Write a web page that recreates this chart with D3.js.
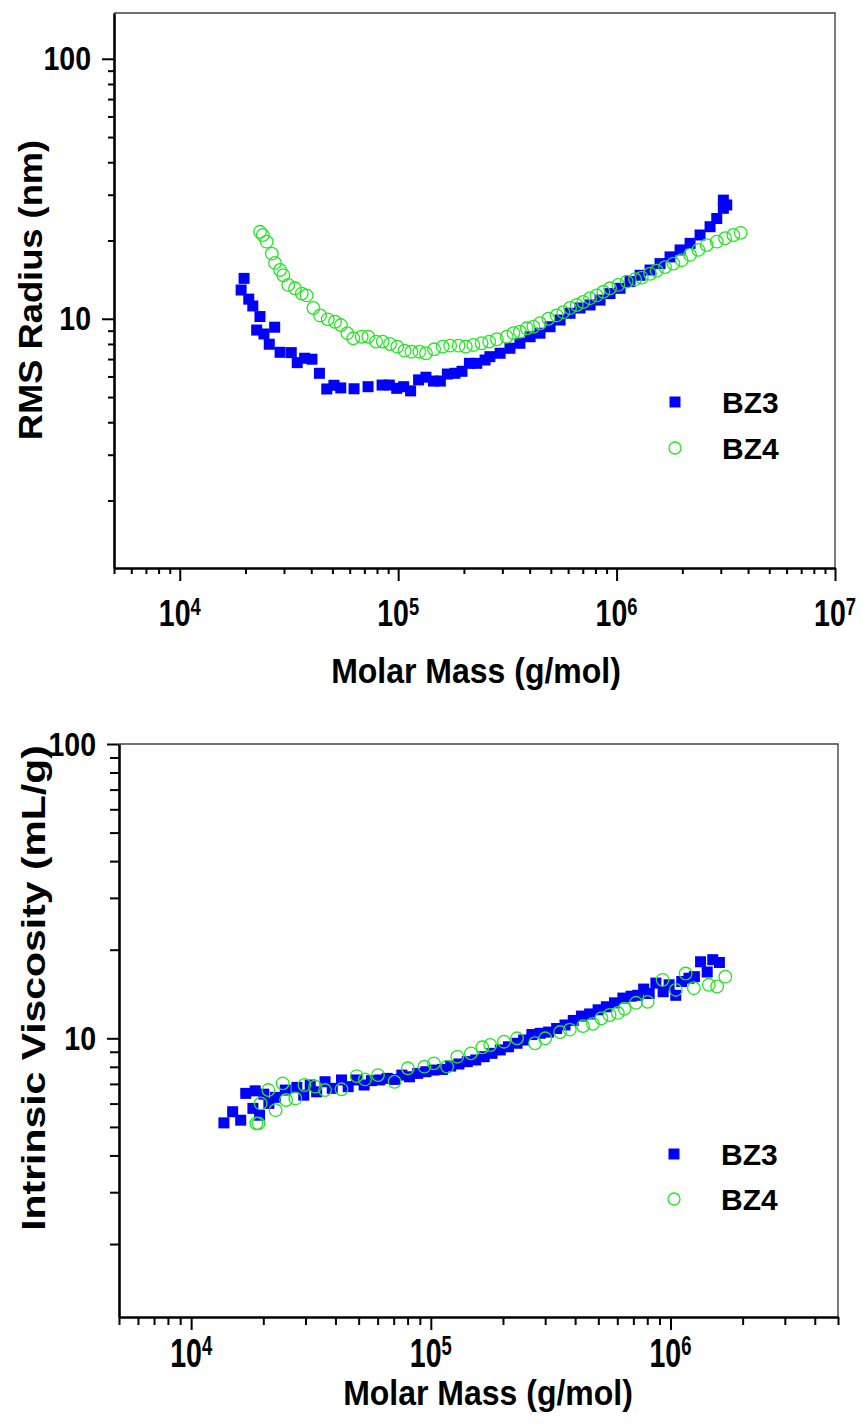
<!DOCTYPE html>
<html>
<head>
<meta charset="utf-8">
<script src="https://cdn.jsdelivr.net/npm/d3@7"></script>
<style>
html, body { margin: 0; padding: 0; background: #fff; }
svg text { font-family: "Liberation Sans", Arial, sans-serif; font-weight: bold; fill: #000; }
</style>
</head>
<body>
<script>
// ---- data ----
// top panel: RMS radius (nm) vs molar mass (g/mol)
const massBZ3Top = [19700, 19100, 20700, 21600, 23300, 22500, 24300, 27200, 25700, 28800,
	32400, 34500, 37300, 40300, 43600, 47100, 50800, 54600, 62800, 72800,
	84400, 91100, 98500, 106000, 114000, 124000, 134000, 145000, 156000, 168000,
	182000, 196000, 212000, 229000, 250000, 263000, 293000, 325000, 361000, 402000,
	446000, 496000, 551000, 612000, 680000, 756000, 840000, 933000, 1037000, 1152000,
	1281000, 1423000, 1581000, 1757000, 1953000, 2170000, 2411000, 2679000, 2875000, 3082000,
	3082000, 3194000];
const radiusBZ3 = [14.3, 12.9, 11.9, 11.2, 10.2, 9.05, 8.74, 9.28, 7.98, 7.43,
	7.41, 6.78, 7.05, 6.99, 6.17, 5.37, 5.55, 5.42, 5.38, 5.48,
	5.56, 5.56, 5.40, 5.48, 5.28, 5.82, 5.96, 5.76, 5.76, 6.13,
	6.17, 6.28, 6.74, 6.74, 6.94, 7.15, 7.37, 7.70, 8.05, 8.53,
	8.80, 9.32, 9.89, 10.5, 11.0, 11.3, 11.8, 12.5, 13.1, 13.9,
	14.7, 15.4, 16.3, 17.3, 18.4, 19.5, 21.0, 22.6, 24.3, 26.6,
	28.6, 27.4];
const massBZ4Top = [23300, 24000, 25000, 26400, 27300, 28800, 29800, 31400, 33700, 36200,
	38100, 40900, 43900, 47600, 51400, 54700, 58500, 62300, 68100, 73000,
	79200, 85000, 91800, 99100, 107000, 115000, 125000, 134000, 146000, 160000,
	173000, 189000, 204000, 221000, 241000, 261000, 283000, 314000, 337000, 361000,
	388000, 416000, 446000, 487000, 532000, 570000, 612000, 657000, 704000, 756000,
	811000, 870000, 933000, 1019000, 1113000, 1215000, 1304000, 1423000, 1527000, 1667000,
	1819000, 1988000, 2170000, 2368000, 2587000, 2875000, 3138000, 3424000, 3702000];
const radiusBZ4 = [21.6, 21.0, 19.8, 17.8, 16.4, 15.4, 14.7, 13.5, 13.1, 12.5,
	12.3, 11.0, 10.3, 9.95, 9.74, 9.46, 8.80, 8.41, 8.53, 8.53,
	8.17, 8.17, 8.00, 7.81, 7.54, 7.47, 7.47, 7.37, 7.63, 7.81,
	7.88, 7.88, 7.81, 7.93, 8.05, 8.17, 8.34, 8.53, 8.80, 8.92,
	9.19, 9.32, 9.61, 10.0, 10.3, 10.6, 11.0, 11.3, 11.6, 12.0,
	12.3, 12.7, 13.1, 13.5, 13.9, 14.2, 14.4, 14.9, 15.3, 15.8,
	16.3, 16.8, 17.6, 18.4, 19.2, 19.8, 20.4, 21.0, 21.4];

// bottom panel: intrinsic viscosity (mL/g) vs molar mass (g/mol)
const massBZ3Bottom = [13700, 14900, 16100, 16900, 18100, 18500, 19300, 20100, 21100, 22500,
	24700, 27600, 29500, 31400, 33400, 36200, 38800, 42400, 45200, 49000,
	52700, 56500, 61200, 65800, 70600, 75700, 81500, 88200, 95400, 103000,
	112000, 121000, 131000, 142000, 154000, 167000, 180000, 195000, 211000, 229000,
	244000, 264000, 286000, 310000, 335000, 363000, 393000, 425000, 460000, 499000,
	540000, 584000, 633000, 685000, 730000, 773000, 815000, 869000, 932000, 987000,
	1052000, 1114000, 1194000, 1258000, 1335000, 1423000, 1501000, 1600000];
const viscBZ3 = [5.16, 5.63, 5.27, 6.50, 5.78, 6.63, 5.48, 6.46, 6.01, 6.30,
	6.67, 6.81, 6.41, 6.94, 6.58, 7.12, 6.76, 7.22, 6.85, 7.22,
	6.94, 7.18, 7.22, 7.31, 7.25, 7.50, 7.40, 7.60, 7.70, 7.80,
	7.84, 8.05, 8.18, 8.33, 8.44, 8.66, 8.89, 9.13, 9.36, 9.62,
	9.87, 10.3, 10.4, 10.5, 10.8, 11.1, 11.5, 11.9, 12.1, 12.5,
	12.8, 13.2, 13.7, 13.9, 14.0, 14.7, 14.2, 15.4, 14.4, 15.2,
	14.0, 15.6, 16.0, 16.2, 18.2, 16.8, 18.5, 18.1];
const massBZ4Bottom = [18700, 19100, 19500, 21000, 22500, 24100, 24900, 27200, 29700, 32900,
	36200, 42400, 49000, 53100, 60200, 70600, 80200, 94000, 103000, 117000,
	129000, 147000, 164000, 177000, 202000, 229000, 272000, 300000, 346000, 380000,
	432000, 475000, 515000, 557000, 603000, 643000, 718000, 803000, 927000, 1052000,
	1157000, 1252000, 1445000, 1565000, 1694000];
const viscBZ4 = [5.14, 5.14, 6.01, 6.67, 5.70, 7.03, 6.17, 6.25, 6.94, 6.85,
	6.67, 6.71, 7.44, 7.25, 7.50, 7.12, 7.91, 8.01, 8.22, 8.01,
	8.66, 8.89, 9.32, 9.49, 9.74, 10.0, 9.62, 10.0, 10.5, 10.7,
	11.0, 11.2, 11.7, 12.0, 12.2, 12.6, 13.2, 13.3, 15.8, 14.6,
	16.6, 14.8, 15.2, 15.0, 16.2];

const seriesNames = ["BZ3", "BZ4"];
const xTitle = "Molar Mass (g/mol)";
const yTitles = ["RMS Radius (nm)", "Intrinsic Viscosity (mL/g)"];

const blue = "#0000ff";
const green = "#22e622";

const svg = d3.select("body").append("svg")
	.attr("width", 861)
	.attr("height", 1425);

const zip = (xs, ys) => xs.map((m, i) => ({m, v: ys[i]}));

// decade ticks inside a log domain
const logTicks = (domain) => {
	const major = [];
	const minor = [];
	const lo = Math.floor(Math.log10(domain[0]));
	const hi = Math.ceil(Math.log10(domain[1]));
	for (let e = lo; e <= hi; e++) {
		for (let k = 1; k < 10; k++) {
			const v = k * Math.pow(10, e);
			if (v < domain[0] * 0.999 || v > domain[1] * 1.001) continue;
			(k === 1 ? major : minor).push(v);
		}
	}
	return {major, minor};
};

// text squeezed / stretched like the figure (sx across, sy along height)
const label = (parent, x, y, size, sx, sy, rotated) => parent.append("text")
	.attr("transform", rotated
		? `translate(${x},${y}) rotate(-90) scale(${sy},${sx})`
		: `translate(${x},${y}) scale(${sx},${sy})`)
	.attr("font-size", size);

function panel(p) {
	const x = d3.scaleLog().domain(p.xDomain).range([p.left, p.right]);
	const y = d3.scaleLog().domain(p.yDomain).range([p.bottom, p.top]);
	const g = svg.append("g");

	// thin top / right frame
	g.append("path")
	.attr("d", `M${p.left},${p.top}H${p.right}V${p.bottom}`)
	.attr("fill", "none")
	.attr("stroke", "#444")
	.attr("stroke-width", 1.4);

	const xt = logTicks(p.xDomain);
	const yt = logTicks(p.yDomain);

	const styleAxis = (sel, keepDomain) => {
		sel.select(".domain").attr("stroke-width", keepDomain ? 2.6 : 0).attr("stroke", "#000");
		sel.selectAll(".tick line").attr("stroke-width", 2).attr("stroke", "#000");
		sel.selectAll(".tick text").remove();
	};

	g.append("g")
	.attr("transform", `translate(0,${p.bottom})`)
	.call(d3.axisBottom(x).tickValues(xt.minor).tickSize(p.xMinor).tickSizeOuter(0).tickFormat(""))
	.call((s) => styleAxis(s, false));
	g.append("g")
	.attr("transform", `translate(0,${p.bottom})`)
	.call(d3.axisBottom(x).tickValues(xt.major).tickSize(13).tickSizeOuter(0).tickFormat(""))
	.call((s) => styleAxis(s, true));

	g.append("g")
	.attr("transform", `translate(${p.left},0)`)
	.call(d3.axisLeft(y).tickValues(yt.minor).tickSize(p.yMinor).tickSizeOuter(0).tickFormat(""))
	.call((s) => styleAxis(s, false));
	g.append("g")
	.attr("transform", `translate(${p.left},0)`)
	.call(d3.axisLeft(y).tickValues(yt.major).tickSize(12).tickSizeOuter(0).tickFormat(""))
	.call((s) => styleAxis(s, true));

	// x tick labels 10^n
	xt.major.forEach((v) => {
		const t = label(g, x(v), p.xLabelY, 31, 0.92, p.stretch * 1.08).attr("text-anchor", "middle");
		t.append("tspan").text("10");
		t.append("tspan").attr("font-size", 20).attr("dy", -9).text(Math.round(Math.log10(v)));
	});

	// y tick labels
	yt.major.forEach((v) => {
		label(g, p.yLabelX, y(v) + 11.5, 31, 0.92, 1.05).attr("text-anchor", "end").text(v);
	});

	label(g, p.xTitleX, p.xTitleY, 32, 1, 1.1).attr("text-anchor", "middle").text(xTitle);
	label(g, p.yTitleX, p.yTitleY, 33, 1, p.stretch, true).attr("text-anchor", "middle").text(p.yTitle);

	// markers: squares first, open circles on top
	const sq = 11;
	g.append("g").selectAll("rect")
	.data(zip(p.mass3, p.val3))
	.join("rect")
	.attr("x", (d) => x(d.m) - sq / 2)
	.attr("y", (d) => y(d.v) - sq / 2)
	.attr("width", sq)
	.attr("height", sq)
	.attr("fill", blue);

	g.append("g").selectAll("circle")
	.data(zip(p.mass4, p.val4))
	.join("circle")
	.attr("cx", (d) => x(d.m))
	.attr("cy", (d) => y(d.v))
	.attr("r", 6.3)
	.attr("fill", "none")
	.attr("stroke", green)
	.attr("stroke-width", 1.3);

	// legend
	const lg = g.append("g").attr("transform", `translate(${p.legendX},${p.legendY})`);
	lg.append("rect").attr("x", -5.5).attr("y", -5.5).attr("width", 11).attr("height", 11).attr("fill", blue);
	lg.append("circle").attr("cx", 0).attr("cy", p.legendGap).attr("r", 6)
	.attr("fill", "none").attr("stroke", green).attr("stroke-width", 1.3);
	seriesNames.forEach((name, i) => {
		lg.append("text")
		.attr("x", 47)
		.attr("y", i * p.legendGap + 11)
		.attr("font-size", 30)
		.text(name);
	});
}

panel({
	left: 114, right: 835, top: 13, bottom: 568,
	xDomain: [5000, 1e7], yDomain: [1.1, 150],
	xMinor: 6, yMinor: 6, stretch: 1.1,
	xLabelY: 626, yLabelX: 91, xTitleX: 476, xTitleY: 683,
	yTitleX: 42, yTitleY: 290,
	yTitle: yTitles[0],
	mass3: massBZ3Top, val3: radiusBZ3, mass4: massBZ4Top, val4: radiusBZ4,
	legendX: 675, legendY: 402, legendGap: 46
});

panel({
	left: 119, right: 838, top: 744, bottom: 1317,
	xDomain: [5000, 5e6], yDomain: [1.13, 100],
	xMinor: 8, yMinor: 9, stretch: 1.24,
	xLabelY: 1367, yLabelX: 96, xTitleX: 488, xTitleY: 1405,
	yTitleX: 45, yTitleY: 988,
	yTitle: yTitles[1],
	mass3: massBZ3Bottom, val3: viscBZ3, mass4: massBZ4Bottom, val4: viscBZ4,
	legendX: 674, legendY: 1154, legendGap: 45
});
</script>
</body>
</html>
